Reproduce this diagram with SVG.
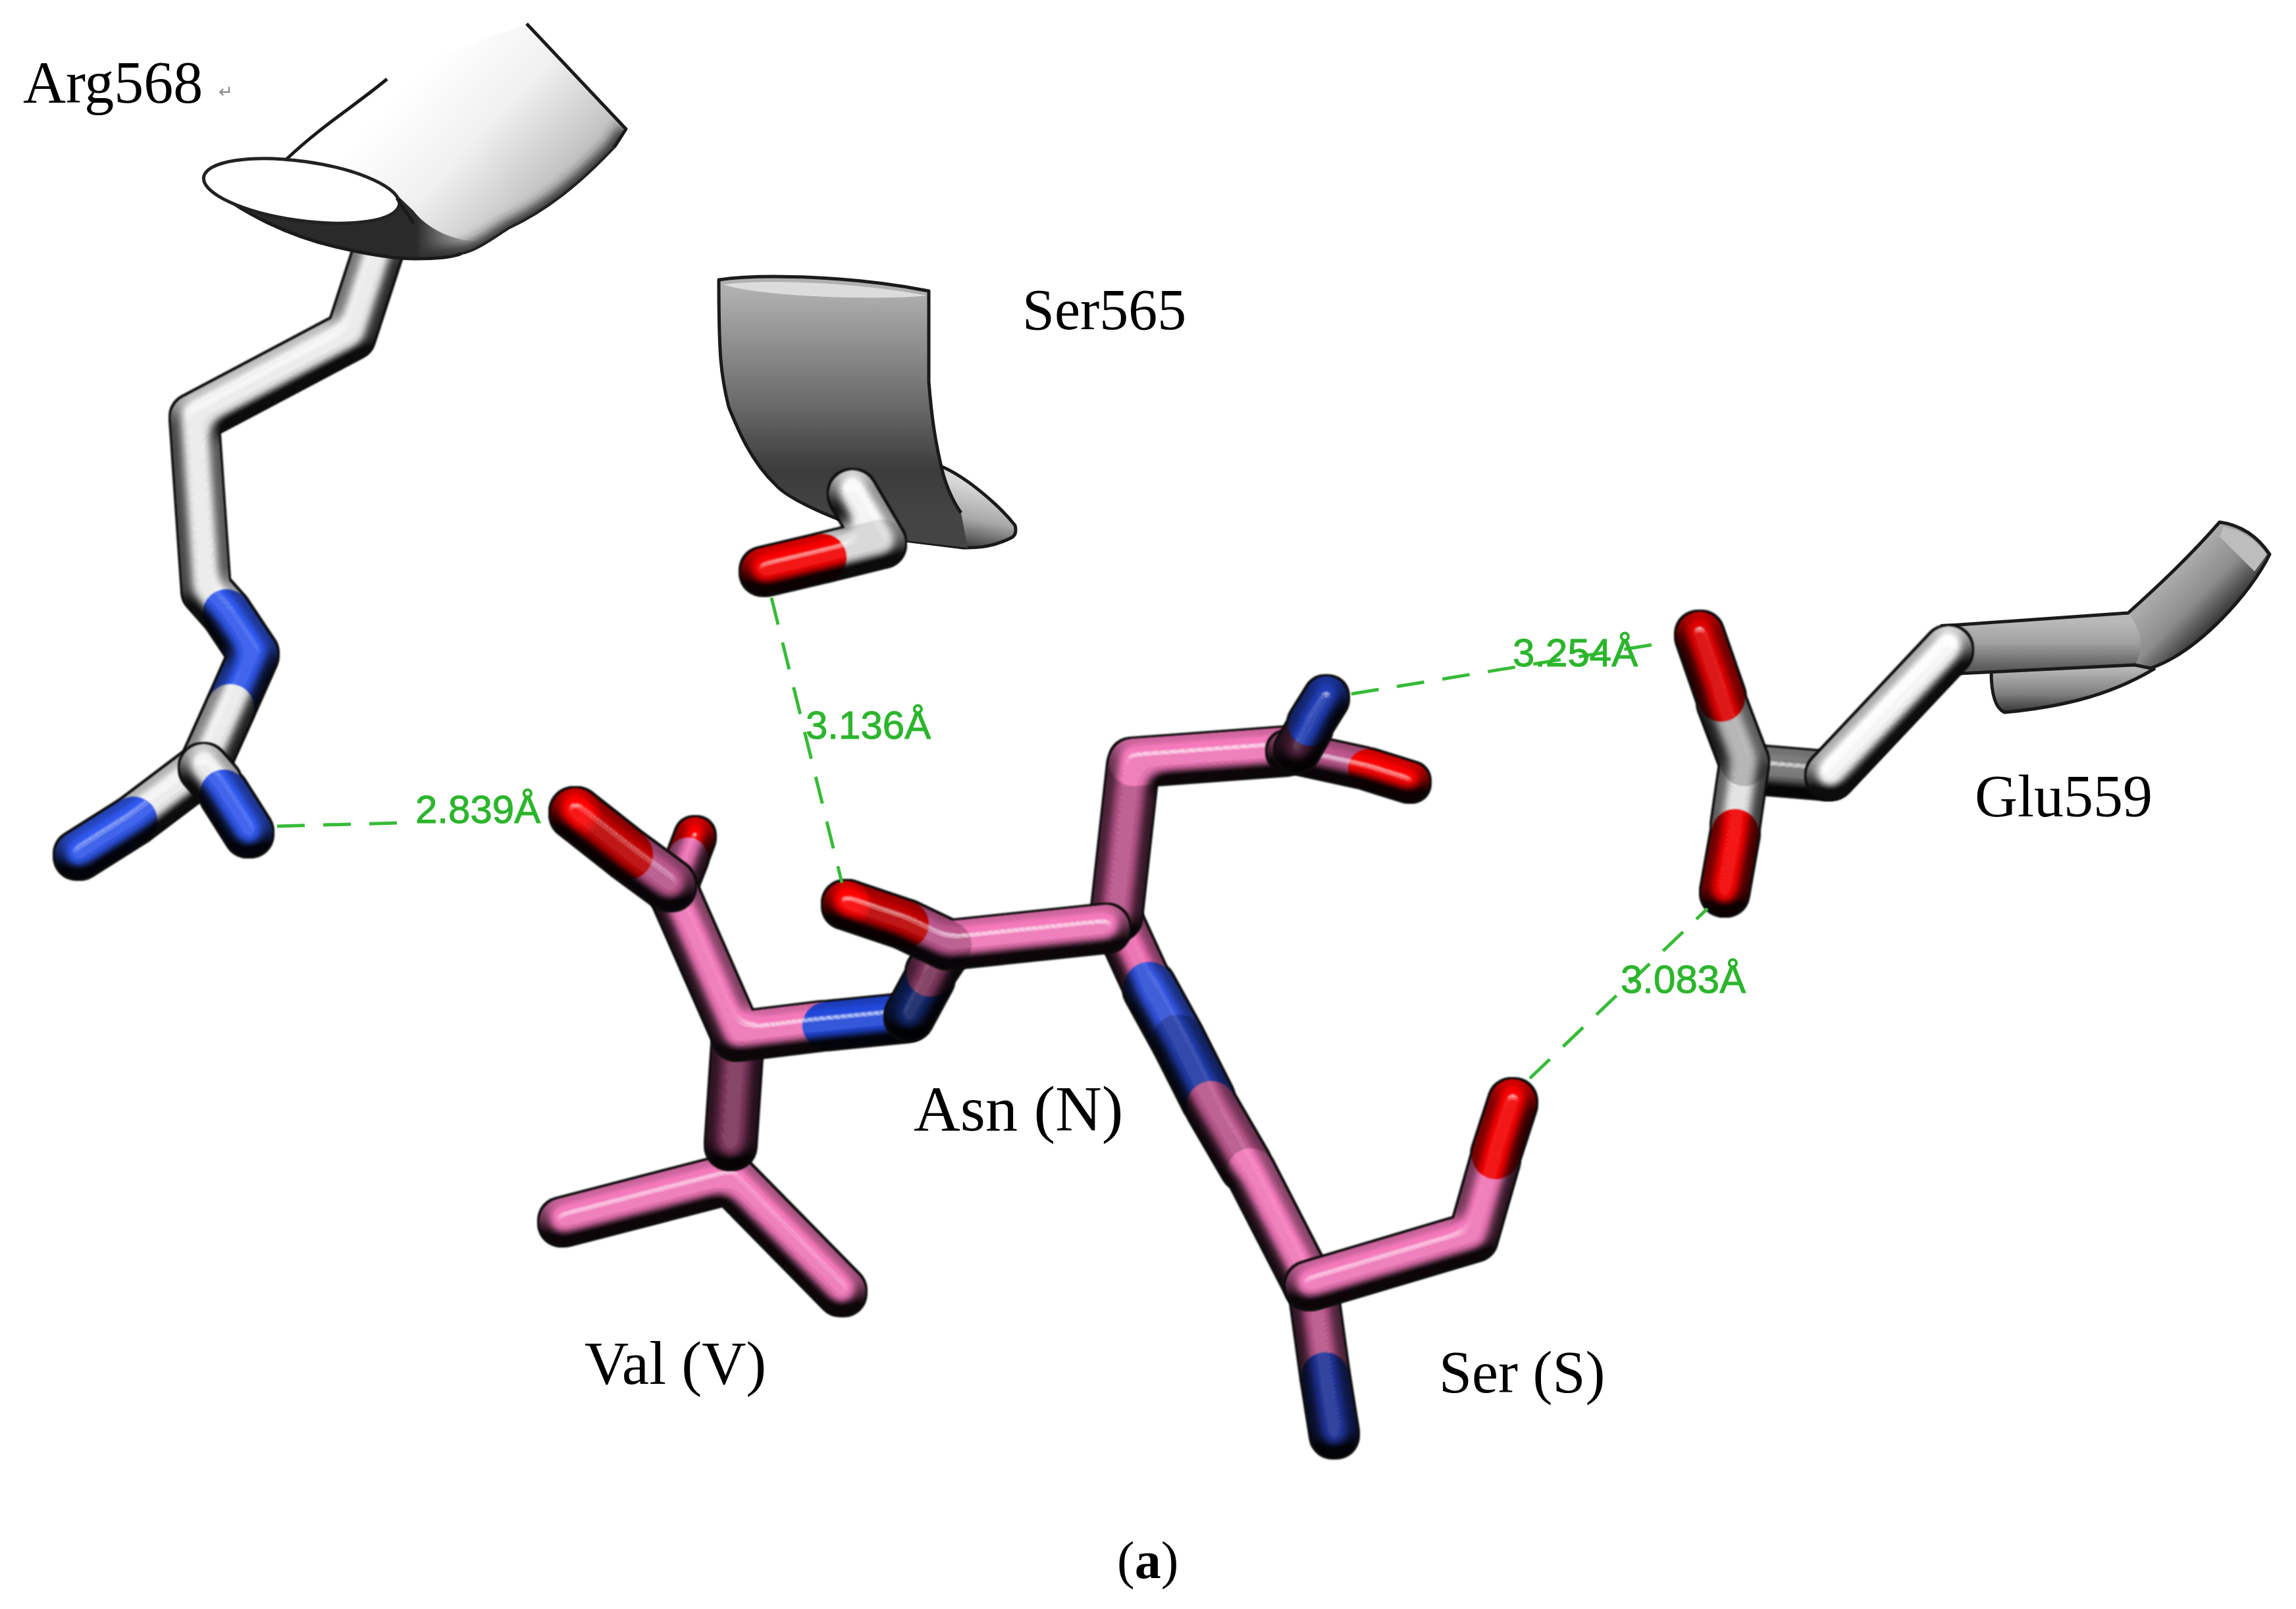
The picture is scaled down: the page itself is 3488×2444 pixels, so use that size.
<svg xmlns="http://www.w3.org/2000/svg" width="3488" height="2444" viewBox="0 0 3488 2444">
<style>
.s{fill:none;stroke-linecap:round;stroke-linejoin:round;stroke-width:72}
.w{stroke:#f2f2f2}.g{stroke:#b4b4b4}
.b{stroke:#2f58f0}.db{stroke:#1f3aa8}
.r{stroke:#f80000}.dr{stroke:#c00000}
.p{stroke:#f478ba}.m{stroke:#bc568c}.d{stroke:#7e355c}.dd{stroke:#4a2038}
.hb{fill:none;stroke:#37bb37;stroke-width:5;stroke-dasharray:42 28}
.dist{font-family:"Liberation Sans",Arial,sans-serif;font-size:60px;fill:#2cb52c;stroke:#2cb52c;stroke-width:1}
.lab{font-family:"Liberation Serif","Times New Roman",serif;font-size:90px;fill:#000}
.ln{fill:none;stroke:#1a1a1a;stroke-width:5;stroke-linejoin:round}
</style>
<defs>
<filter id="st" filterUnits="userSpaceOnUse" x="0" y="0" width="3488" height="2444" color-interpolation-filters="sRGB">
<feMorphology in="SourceAlpha" operator="dilate" radius="3" result="o"/>
<feFlood flood-color="#0c0c0c" result="k"/>
<feComposite in="k" in2="o" operator="in" result="ol"/>
<feGaussianBlur in="SourceAlpha" stdDeviation="11" result="bump"/>
<feDiffuseLighting in="bump" surfaceScale="43" diffuseConstant="1.12" lighting-color="#fff" result="dif"><feDistantLight azimuth="270" elevation="60"/></feDiffuseLighting>
<feComposite in="SourceGraphic" in2="dif" operator="arithmetic" k1="0.95" k2="0.05" result="lit0"/>
<feComposite in="lit0" in2="SourceAlpha" operator="in" result="lit"/>
<feSpecularLighting in="bump" surfaceScale="43" specularConstant="0.75" specularExponent="60" lighting-color="#fff" result="sp"><feDistantLight azimuth="270" elevation="60"/></feSpecularLighting>
<feComposite in="sp" in2="SourceAlpha" operator="in" result="spc"/>
<feMerge result="all"><feMergeNode in="ol"/><feMergeNode in="lit"/><feMergeNode in="spc"/></feMerge>
<feGaussianBlur in="all" stdDeviation="1.2"/>
</filter>
<filter id="soft" x="-20%" y="-20%" width="140%" height="140%"><feGaussianBlur stdDeviation="9"/></filter>
<clipPath id="cArg"><path d="M435,242 C490,190 540,160 588,120 L621,102 L800,36 L951,196 L933,224 C880,280 830,320 772,347 C740,368 720,382 701,385 C670,393 650,393 631,393 L500,350 Z"/></clipPath>
<linearGradient id="gArg" gradientUnits="userSpaceOnUse" x1="640" y1="110" x2="850" y2="310">
<stop offset="0" stop-color="#fff"/><stop offset=".45" stop-color="#f0f0f0"/><stop offset="1" stop-color="#b8b8b8"/>
</linearGradient>
<linearGradient id="gCres" gradientUnits="userSpaceOnUse" x1="590" y1="0" x2="730" y2="0">
<stop offset=".3" stop-color="#2a2a2a"/><stop offset="1" stop-color="#2a2a2a" stop-opacity="0"/>
</linearGradient>
<linearGradient id="gSer" gradientUnits="userSpaceOnUse" x1="0" y1="440" x2="0" y2="790">
<stop offset="0" stop-color="#b0b0b0"/><stop offset=".5" stop-color="#6a6a6a"/><stop offset=".78" stop-color="#3c3c3c"/><stop offset="1" stop-color="#444"/>
</linearGradient>
<linearGradient id="gFoot" gradientUnits="userSpaceOnUse" x1="1470" y1="735" x2="1450" y2="835">
<stop offset="0" stop-color="#d8d8d8"/><stop offset=".5" stop-color="#a8a8a8"/><stop offset="1" stop-color="#2c2c2c"/>
</linearGradient>
<linearGradient id="gGluH" gradientUnits="userSpaceOnUse" x1="0" y1="945" x2="0" y2="1015">
<stop offset="0" stop-color="#b8b8b8"/><stop offset=".45" stop-color="#a0a0a0"/><stop offset="1" stop-color="#5c5c5c"/>
</linearGradient>
<linearGradient id="gGluA" gradientUnits="userSpaceOnUse" x1="3290" y1="870" x2="3372" y2="950">
<stop offset="0" stop-color="#b0b0b0"/><stop offset=".55" stop-color="#8c8c8c"/><stop offset="1" stop-color="#2c2c2c"/>
</linearGradient>
<linearGradient id="gGluB" gradientUnits="userSpaceOnUse" x1="0" y1="1015" x2="0" y2="1080">
<stop offset="0" stop-color="#b8b8b8"/><stop offset=".6" stop-color="#808080"/><stop offset="1" stop-color="#3a3a3a"/>
</linearGradient>
<linearGradient id="gGluC" gradientUnits="userSpaceOnUse" x1="0" y1="1130" x2="0" y2="1215">
<stop offset="0" stop-color="#8c8c8c"/><stop offset="1" stop-color="#585858"/>
</linearGradient>
<radialGradient id="cap1" gradientUnits="userSpaceOnUse" cx="874" cy="1230" r="50"><stop offset=".45" stop-color="#ff0000"/><stop offset="1" stop-color="#b80000"/></radialGradient>
<radialGradient id="cap2" gradientUnits="userSpaceOnUse" cx="1286" cy="1370" r="50"><stop offset=".45" stop-color="#ff0000"/><stop offset="1" stop-color="#c00000"/></radialGradient>
</defs>
<rect width="3488" height="2444" fill="#fff"/>

<g id="arg568">
<g filter="url(#st)">
<path class="s w" d="M575,380 L533,509 L295,635 L313,896 L344,931"/>
<path class="s b" d="M344,931 L386,994 L350,1075"/>
<path class="s w" d="M350,1075 L309,1166 L203,1246"/>
<path class="s b" d="M203,1246 L119,1299"/>
</g>
<g filter="url(#st)">
<path class="s w" d="M309,1166 L330,1190"/>
<path class="s b" d="M340,1205 L378,1265"/>
</g>
<path d="M435,242 C490,190 540,160 588,120 L621,102 L800,36 L951,196 L933,224 C880,280 830,320 772,347 C740,368 720,382 701,385 C670,393 650,393 631,393 L500,350 Z" fill="url(#gArg)"/>
<g clip-path="url(#cArg)"><path d="M951,196 L933,224 C880,280 830,320 772,347 C740,368 720,382 701,385 L640,393" fill="none" stroke="#222" stroke-width="22" filter="url(#soft)"/></g>
<path d="M309,275 C360,320 440,362 533,380 C570,388 600,393 631,393 C665,393 700,388 740,365 C700,372 650,350 628,320 L607,300 Z" fill="url(#gCres)"/>
<path class="ln" d="M309,275 C360,320 440,362 533,380 C570,388 600,393 631,393 C665,393 690,390 701,385"/>
<path class="ln" d="M435,242 C490,190 540,160 588,120"/>
<path class="ln" d="M800,36 L951,196 L933,224"/>
<path d="M933,224 C880,280 830,320 772,347 C740,368 720,382 701,385" fill="none" stroke="#222" stroke-width="4"/>
<ellipse cx="458" cy="290" rx="150" ry="45" transform="rotate(8 458 290)" fill="#fff" stroke="#222" stroke-width="5"/>
<path class="ln" d="M603,301 L628,339"/>
</g>

<g id="ser565">
<path d="M1429,708 C1470,725 1520,770 1542,798 C1545,810 1540,815 1536,817 C1510,830 1490,832 1464,832 L1375,821 Z" fill="url(#gFoot)"/>
<path class="ln" d="M1429,708 C1470,725 1520,770 1542,798 C1545,810 1540,815 1536,817 C1510,830 1490,832 1464,832 L1375,821"/>
<path d="M1092,425 C1160,415 1300,420 1411,442 L1411,580 C1415,630 1420,670 1433,721 C1440,745 1450,765 1460,779 L1470,832 L1375,821 L1277,790 C1225,770 1190,750 1179,737 C1140,700 1120,650 1107,618 C1095,570 1092,540 1092,425 Z" fill="url(#gSer)"/>
<path class="ln" d="M1277,790 C1225,770 1190,750 1179,737 C1140,700 1120,650 1107,618 C1095,570 1092,540 1092,425 C1160,415 1300,420 1411,442 L1411,580 C1415,630 1420,670 1433,721 C1440,745 1450,765 1460,779"/>
<path d="M1098,432 C1160,424 1300,428 1408,449 C1340,456 1160,452 1098,432 Z" fill="#dcdcdc"/>
<g filter="url(#st)">
<path class="s" stroke="#fafafa" d="M1295,750 L1339,825"/>
<path class="s" stroke="#dcdcdc" d="M1339,825 L1250,847"/>
<path class="s r" d="M1250,847 L1161,868"/>
</g>
</g>

<g id="glu559">
<path d="M3025,1010 L3240,1005 L3274,1015 C3200,1060 3120,1075 3045,1082 C3030,1075 3025,1050 3025,1010 Z" fill="url(#gGluB)"/>
<path class="ln" d="M3025,1020 C3025,1050 3030,1075 3045,1082 C3120,1075 3200,1060 3274,1015"/>
<path d="M3233,931 C3290,880 3340,830 3372,793 Q3420,800 3448,842 C3420,900 3340,990 3267,1015 L3243,1010 Z" fill="url(#gGluA)"/>
<path d="M3378,800 Q3420,808 3444,842 L3425,868 L3372,815 Z" fill="#bdbdbd"/>
<path d="M2948,951 L3233,931 C3255,960 3258,985 3243,1010 L2976,1023 Z" fill="url(#gGluH)"/>
<path class="ln" d="M2948,951 L3233,931 C3290,880 3340,830 3372,793 Q3420,800 3448,842 C3420,900 3340,990 3267,1015 L3243,1010 L2976,1023"/>
<g filter="url(#st)">
<path class="s" stroke="url(#gGluC)" d="M2680,1170 L2775,1178"/>
</g>
<g filter="url(#st)">
<path class="s" stroke="#fdfdfd" d="M2780,1178 L2960,987"/>
</g>
<g filter="url(#st)">
<path class="s" stroke="#e8e8e8" d="M2650,1158 L2636,1255"/>
<path class="s r" d="M2636,1265 L2620,1355"/>
<path class="s g" d="M2650,1158 L2615,1066"/>
<path class="s" stroke="#e00000" d="M2615,1060 L2582,965"/>
</g>
</g>

<g id="val">
<g filter="url(#st)"><path class="s r" style="stroke-width:60" d="M1056,1271 L1045,1300"/><path class="s" stroke="#ee72b4" style="stroke-width:60" d="M1045,1302 L1026,1350"/></g>
<g filter="url(#st)">
<path class="s p" d="M1110,1790 L855,1856"/>
<path class="s p" d="M1110,1790 L1279,1962"/>
</g>
<g filter="url(#st)"><path class="s d" style="stroke-width:76" d="M1120,1590 L1110,1738"/></g>
<g filter="url(#st)">
<path class="s p" d="M1024,1356 L1120,1574 L1251,1558"/>
<path class="s" stroke="#2148dc" d="M1255,1558 L1375,1546"/>
</g>
<g filter="url(#st)">
<path class="s m" style="stroke-width:76" d="M1018,1345 L954,1298"/>
<path class="s dr" style="stroke-width:76" d="M954,1298 L874,1235"/>
<circle cx="874" cy="1235" r="38" fill="url(#cap1)"/>
</g>
</g>

<g id="asn">
<g filter="url(#st)">
<path class="s" stroke="#ee6cb0" d="M1702,1406 L1740,1489"/>
<path class="s" stroke="#2f50dc" style="stroke-width:78" d="M1746,1500 L1790,1580"/>
<path class="s db" style="stroke-width:78" d="M1790,1580 L1836,1671"/>
<path class="s m" style="stroke-width:76" d="M1840,1680 L1893,1771"/>
<path class="s p" d="M1900,1780 L1989,1953"/>
</g>
<g filter="url(#st)">
<path class="s m" style="stroke-width:76" d="M1696,1390 L1721,1165"/>
<path class="s p" d="M1721,1158 L1951,1141"/>
</g>
<g filter="url(#st)">
<path class="s" stroke="#102468" d="M1381,1544 L1413,1485"/>
<path class="s d" d="M1413,1478 L1435,1445"/>
</g>
<g filter="url(#st)">
<path class="s p" d="M1442,1435 L1680,1410"/>
<path class="s m" d="M1440,1435 L1375,1404"/>
<path class="s dr" d="M1375,1404 L1286,1374"/>
<circle cx="1286" cy="1374" r="36" fill="url(#cap2)"/>
</g>
<g filter="url(#st)">
<path class="s m" style="stroke-width:60" d="M1955,1141 L2070,1166"/>
<path class="s r" style="stroke-width:60" d="M2078,1168 L2142,1188"/>
</g>
<g filter="url(#st)">
<path class="s dd" style="stroke-width:66" d="M1970,1140 L1990,1105"/>
<path class="s" stroke="#1f3cb4" style="stroke-width:66" d="M1990,1100 L2015,1060"/>
</g>
</g>

<g id="ser">
<g filter="url(#st)">
<path class="s m" d="M1995,1960 L2013,2090"/>
<path class="s" stroke="#1f3399" d="M2013,2090 L2027,2178"/>
</g>
<g filter="url(#st)">
<path class="s p" d="M1989,1953 L2238,1879 L2272,1760"/>
<path class="s r" d="M2272,1755 L2298,1675"/>
</g>
</g>

<g id="hbonds">
<path class="hb" d="M421,1255 L607,1250"/>
<path class="hb" d="M1172,908 L1279,1341"/>
<path class="hb" d="M2053,1054 L2518,978"/>
<path class="hb" d="M2324,1638 L2594,1380"/>
<text class="dist" x="631" y="1250">2.839Å</text>
<text class="dist" x="1224" y="1122">3.136Å</text>
<text class="dist" x="2298" y="1012">3.254Å</text>
<text class="dist" x="2462" y="1508">3.083Å</text>
</g>

<g id="labels">
<text class="lab" x="35" y="156">Arg568</text>
<text x="332" y="148" font-family="DejaVu Sans,sans-serif" font-size="26" fill="#888">↵</text>
<text class="lab" x="1553" y="500" style="font-size:88px">Ser565</text>
<text class="lab" x="3000" y="1240">Glu559</text>
<text class="lab" x="1388" y="1717" style="font-size:98px">Asn (N)</text>
<text class="lab" x="888" y="2102" style="font-size:93px">Val (V)</text>
<text class="lab" x="2186" y="2115">Ser (S)</text>
<text class="lab" x="1697" y="2397" style="font-size:80px">(<tspan font-weight="bold">a</tspan>)</text>
</g>
</svg>
